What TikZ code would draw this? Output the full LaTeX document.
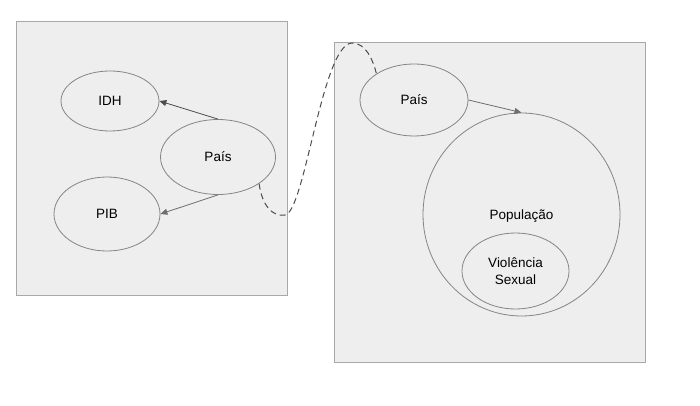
\documentclass[tikz,border=0pt]{standalone}
\usepackage{fontspec}
\setmainfont{Liberation Sans}
\usetikzlibrary{arrows.meta,shapes.geometric}
\definecolor{panelfill}{HTML}{EEEEEE}
\definecolor{panelline}{HTML}{A8A8A8}
\definecolor{ellline}{HTML}{858585}
\definecolor{arrline}{HTML}{6E6E6E}
\tikzset{
  panel/.style={draw=panelline, fill=panelfill, line width=0.9pt},
  ent/.style={ellipse, draw=ellline, line width=0.8pt, inner sep=0pt, align=center, font=\fontsize{13.5}{15.5}\selectfont, text=black},
  rel/.style={draw=arrline, line width=0.8pt, -{Triangle[length=7pt,width=6pt]}},
  link/.style={draw=black!70, line width=1pt, dash pattern=on 6pt off 4pt},
}
\begin{document}
\begin{tikzpicture}[x=1pt,y=-1pt]
\useasboundingbox (0,0) rectangle (700,406);
\fill[white] (0,0) rectangle (700,406);
\draw[panel] (16,21) rectangle (287,295);
\draw[panel] (334,42) rectangle (645,362);
\node[ent, minimum width=98pt, minimum height=60pt] (idh) at (110,101) {IDH};
\node[ent, minimum width=115pt, minimum height=75pt] (pl) at (218,157) {País};
\node[ent, minimum width=106pt, minimum height=74pt] (pib) at (107,214) {PIB};
\node[ent, minimum width=108pt, minimum height=72pt] (pr) at (414,100) {País};
\node[ent, minimum width=197pt, minimum height=203pt, text depth=0pt] (pop) at (521.5,214.5) {População};
\node[ent, minimum width=107pt, minimum height=76pt, font=\fontsize{13.5}{17}\selectfont] (vs) at (515.5,271) {Violência\\Sexual};
\draw[rel, draw=black!70] (pl.north) -- (idh.east);
\draw[rel] (pl.south) -- (pib.east);
\draw[rel] (pr.east) -- (pop.north);
\draw[link] (pl.-33) .. controls (262,205) and (272,217) .. (285,215)
  .. controls (305,212) and (322,44) .. (352,43)
  .. controls (366,43) and (373,60) .. (pr.145);
\end{tikzpicture}
\end{document}
